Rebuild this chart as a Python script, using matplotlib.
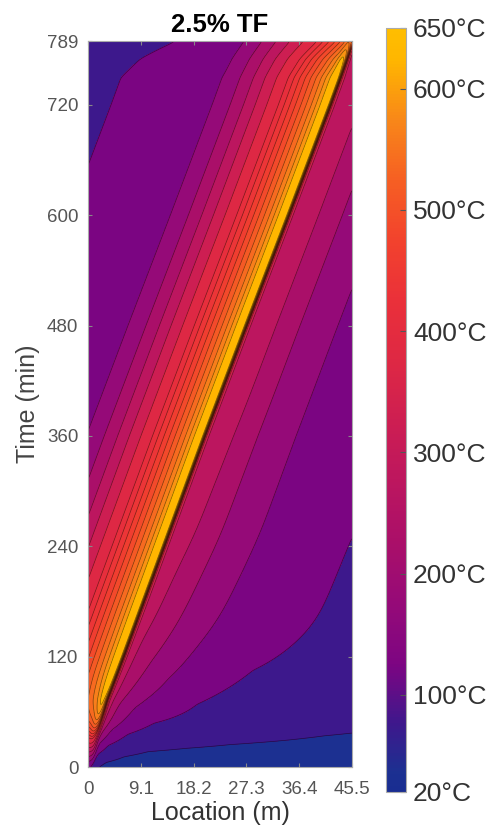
import numpy as np
import matplotlib
matplotlib.use("Agg")
import matplotlib.pyplot as plt
from matplotlib.colors import LinearSegmentedColormap, Normalize
from matplotlib.cm import ScalarMappable

plt.rcParams['font.family'] = ['Liberation Sans', 'DejaVu Sans']

# fire peak position over time
peak_time = [0, 30, 73, 120, 240, 360, 480, 600, 720, 789]
peak_loc = [0, 0.6, 2.5, 5.3, 12.3, 19.3, 26.5, 33.8, 41.0, 45.0]

# temperature ahead of the peak (d = metres ahead), one row per time
lead_d = [0, 0.65, 0.9, 1.3, 3, 6, 10, 16.5, 24, 33, 40, 46]
lead_times = [0, 10, 20, 40, 90, 160, 250, 400]
lead_T = [
    [20, 20, 20, 20, 20, 20, 20, 20, 20, 20, 20, 20],
    [80, 65, 52, 44, 36, 30, 27, 25, 24, 23, 22, 22],
    [320, 260, 190, 130, 85, 66, 52, 47, 45, 43, 41, 40],
    [580, 530, 380, 250, 170, 118, 96, 86, 74, 65, 58, 54],
    [645, 600, 410, 290, 230, 185, 150, 112, 96, 88, 80, 75],
    [650, 600, 410, 300, 260, 225, 180, 140, 116, 98, 89, 83],
    [650, 600, 410, 300, 268, 245, 198, 150, 122, 99, 93, 88],
    [650, 600, 410, 300, 270, 250, 200, 150, 125, 104, 95, 90],
]

# temperature behind the peak (b = metres behind), fully developed fire
trail_b = [0, 0.95, 2.5, 4.3, 6.2, 8.2, 10.2, 12.2, 14.2, 16.5, 19.5, 27, 37, 46]
trail_T = [650, 600, 550, 500, 450, 400, 350, 300, 250, 200, 150, 120, 100, 90]

# cooling once the fire reaches the far end
end_time = [0, 750, 770, 789]
end_frac = [1, 1, 0.95, 0.85]

levels = [20, 50, 100, 150, 200, 250, 300, 350, 400, 425, 450, 475, 500,
          525, 550, 575, 600, 650]
cbar_ticks = [20, 100, 200, 300, 400, 500, 600, 650]
x_ticks = [0, 9.1, 18.2, 27.3, 36.4, 45.5]
y_ticks = [0, 120, 240, 360, 480, 600, 720, 789]

anchors = [
    (20, (25, 45, 145)), (35, (28, 48, 145)), (75, (62, 24, 140)),
    (125, (125, 5, 130)), (175, (150, 10, 120)), (225, (170, 15, 105)),
    (275, (188, 22, 95)), (325, (205, 30, 82)), (375, (222, 40, 68)),
    (425, (234, 48, 58)), (475, (242, 66, 45)), (525, (246, 95, 35)),
    (575, (248, 135, 25)), (625, (255, 182, 0)), (650, (255, 190, 0)),
]
cmap = LinearSegmentedColormap.from_list(
    'fire', [((v - 20) / 630, tuple(c / 255 for c in rgb)) for v, rgb in anchors])
norm = Normalize(20, 650)


def smooth(a, sigma, axis):
    n = int(3 * sigma)
    k = np.exp(-0.5 * (np.arange(-n, n + 1) / sigma) ** 2)
    k /= k.sum()
    pad = [(0, 0)] * a.ndim
    pad[axis] = (n, n)
    ap = np.pad(a, pad, mode='edge')
    return np.apply_along_axis(lambda v: np.convolve(v, k, mode='valid'), axis, ap)


x = np.linspace(0, 45.5, 460)
t = np.linspace(0, 789, 800)
lead_T = np.array(lead_T, dtype=float)
rows = np.array([np.interp(t, lead_times, lead_T[:, j]) for j in range(len(lead_d))])
rows = smooth(rows, 18, axis=1)

T = np.zeros((len(t), len(x)))
for i, ti in enumerate(t):
    row = rows[:, i]
    d = x - np.interp(ti, peak_time, peak_loc)
    s = (row[0] - 20) / 630
    ahead = np.interp(d, lead_d, row)
    behind = 20 + (np.interp(-d, trail_b, trail_T) - 20) * s
    Ti = np.where(d >= 0, ahead, behind)
    T[i] = 20 + (Ti - 20) * np.interp(ti, end_time, end_frac)
T = smooth(smooth(T, 2, axis=1), 2, axis=0)

fig = plt.figure(figsize=(4.95, 8.35), dpi=100)
ax = fig.add_axes([0.178, 0.0814, 0.533, 0.869])
ax.contourf(x, t, T, levels=levels, cmap=cmap, norm=norm)
ax.contour(x, t, T, levels=levels[1:-1], colors='k', linewidths=0.5, alpha=0.5)

ax.set_xlim(0, 45.5)
ax.set_ylim(0, 789)
ax.set_xticks(x_ticks)
ax.set_xticklabels(['0', '9.1', '18.2', '27.3', '36.4', '45.5'])
ax.set_yticks(y_ticks)
ax.tick_params(direction='in', length=3, color='#888888', labelcolor='#555555',
               labelsize=13.5, top=True, right=True)
ax.tick_params(axis='y', pad=7)
ax.tick_params(axis='x', pad=10)
for sp in ax.spines.values():
    sp.set_color('#aaaaaa')
ax.set_title('2.5% TF', fontsize=18.5, fontweight='bold', pad=7)
ax.set_xlabel('Location (m)', fontsize=18, color='#333333', labelpad=2)
ax.set_ylabel('Time (min)', fontsize=18, color='#444444', labelpad=5)

cax = fig.add_axes([0.780, 0.0515, 0.0404, 0.915])
cb = fig.colorbar(ScalarMappable(norm=norm, cmap=cmap), cax=cax, ticks=cbar_ticks)
cb.ax.set_yticklabels([f'{v}\u00b0C' for v in cbar_ticks])
cb.ax.tick_params(direction='in', length=4, labelsize=19, labelcolor='#333333',
                  color='#555555', pad=5)
cb.outline.set_edgecolor('#aaaaaa')

fig.savefig('out.png', dpi=100)
